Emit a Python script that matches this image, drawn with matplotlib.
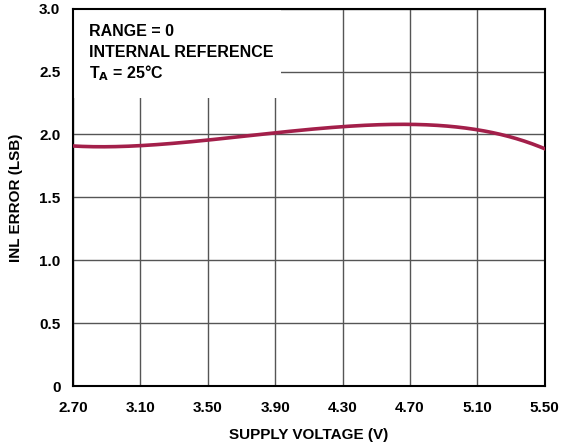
import numpy as np
import matplotlib.pyplot as plt
from matplotlib.patches import Rectangle

# supply voltage (V) and INL error (LSB)
voltage = [2.70, 2.90, 3.10, 3.30, 3.50, 3.70, 3.90, 4.10, 4.30, 4.50, 4.70, 4.90, 5.10, 5.30, 5.50]
inl = [1.91, 1.90, 1.91, 1.93, 1.96, 1.985, 2.01, 2.04, 2.06, 2.075, 2.08, 2.075, 2.04, 1.97, 1.89]

xticks = [2.70, 3.10, 3.50, 3.90, 4.30, 4.70, 5.10, 5.50]
xlabels = ['2.70', '3.10', '3.50', '3.90', '4.30', '4.70', '5.10', '5.50']
yticks = [0, 0.5, 1.0, 1.5, 2.0, 2.5, 3.0]
ylabels = ['0', '0.5', '1.0', '1.5', '2.0', '2.5', '3.0']

plt.rcParams['font.family'] = ['Liberation Sans', 'DejaVu Sans']

fig = plt.figure(figsize=(5.61, 4.46), dpi=100)
ax = fig.add_axes([0.130, 0.1345, 0.841, 0.846])

# smooth the read points a bit for drawing
xs = np.linspace(voltage[0], voltage[-1], 300)
coef = np.polyfit(voltage, inl, 5)
ax.plot(xs, np.polyval(coef, xs), color='#A31F4A', lw=2.6, zorder=3)

ax.set_xlim(2.70, 5.50)
ax.set_ylim(0, 3.0)
ax.set_xticks(xticks)
ax.set_xticklabels(xlabels, fontsize=11, fontweight='bold')
ax.set_yticks(yticks)
ax.set_yticklabels(ylabels, fontsize=11, fontweight='bold')
ax.tick_params(axis='x', length=0, pad=11)
ax.tick_params(axis='y', length=0, pad=9)
ax.grid(True, color='#555555', lw=1.0)
for s in ax.spines.values():
    s.set_linewidth(1.5)
    s.set_color('black')

ax.set_xlabel('SUPPLY VOLTAGE (V)', fontsize=11, fontweight='bold', labelpad=9)
ax.set_ylabel('INL ERROR (LSB)', fontsize=11, fontweight='bold', labelpad=12)

# white box behind the notes
ax.add_patch(Rectangle((0, 0.764), 0.44, 0.236, transform=ax.transAxes,
                       facecolor='white', edgecolor='none', zorder=2))
ax.text(0.034, 0.939, 'RANGE = 0', transform=ax.transAxes, fontsize=11.5,
        fontweight='bold', va='center', zorder=4)
ax.text(0.034, 0.884, 'INTERNAL REFERENCE', transform=ax.transAxes, fontsize=11.5,
        fontweight='bold', va='center', zorder=4)
ax.text(0.034, 0.829, r'T$_\mathbf{A}$ = 25°C', transform=ax.transAxes, fontsize=11.5,
        fontweight='bold', va='center', zorder=4)

fig.savefig('out.png', dpi=100)
